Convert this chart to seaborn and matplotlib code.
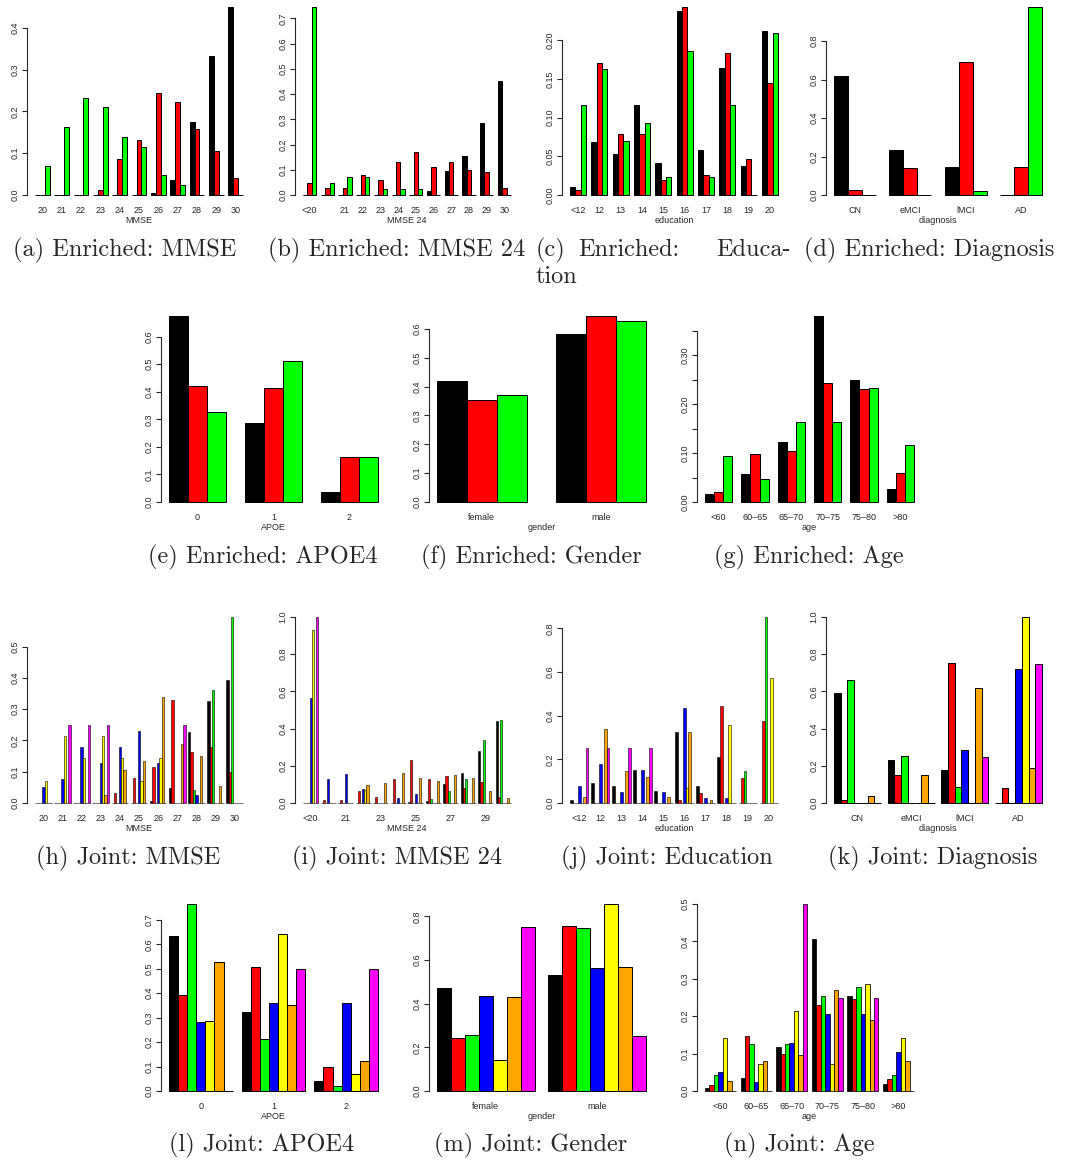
import matplotlib
matplotlib.use("Agg")
import matplotlib.pyplot as plt
import numpy as np
import pandas as pd
import seaborn as sns

sns.set_style("ticks")
plt.rcParams['font.family'] = ['Liberation Sans', 'DejaVu Sans']

# group colours (R style)
enr_names = ["g1", "g2", "g3"]
enr_colors = ["black", "red", "#00FF00"]
jnt_names = ["g1", "g2", "g3", "g4", "g5", "g6", "g7"]
jnt_colors = ["black", "red", "#00FF00", "blue", "yellow", "orange", "magenta"]

# categories
mmse_cats = ["20", "21", "22", "23", "24", "25", "26", "27", "28", "29", "30"]
mmse24_cats = ["<20", "20", "21", "22", "23", "24", "25", "26", "27", "28", "29", "30"]
edu_cats = ["<12", "12", "13", "14", "15", "16", "17", "18", "19", "20"]
diag_cats = ["CN", "eMCI", "lMCI", "AD"]
apoe_cats = ["0", "1", "2"]
gender_cats = ["female", "male"]
age_cats = ["<60", "60\u201365", "65\u201370", "70\u201375", "75\u201380", ">80"]

# tick labels that R actually printed
mmse24_enr_labels = ["<20", "", "21", "22", "23", "24", "25", "26", "27", "28", "29", "30"]
mmse24_jnt_labels = ["<20", "", "21", "", "23", "", "25", "", "27", "", "29", ""]

# ---- enriched data (black, red, green) ----
enr_mmse = [
    [0, 0, 0, 0, 0, 0, 0.005, 0.037, 0.175, 0.333, 0.45],
    [0, 0, 0, 0.013, 0.085, 0.132, 0.243, 0.223, 0.158, 0.105, 0.04],
    [0.07, 0.163, 0.233, 0.21, 0.14, 0.116, 0.047, 0.023, 0, 0, 0],
]
enr_mmse24 = [
    [0, 0, 0, 0, 0, 0, 0, 0.016, 0.095, 0.153, 0.286, 0.45],
    [0.046, 0.026, 0.026, 0.079, 0.058, 0.132, 0.17, 0.112, 0.13, 0.1, 0.092, 0.026],
    [0.745, 0.046, 0.07, 0.07, 0.023, 0.023, 0.023, 0, 0, 0, 0, 0],
]
enr_edu = [
    [0.01, 0.069, 0.053, 0.116, 0.042, 0.238, 0.058, 0.164, 0.037, 0.212],
    [0.006, 0.171, 0.079, 0.079, 0.02, 0.243, 0.026, 0.184, 0.046, 0.145],
    [0.116, 0.163, 0.07, 0.093, 0.023, 0.186, 0.023, 0.116, 0, 0.209],
]
enr_diag = [
    [0.62, 0.233, 0.148, 0],
    [0.026, 0.138, 0.69, 0.145],
    [0, 0, 0.023, 0.977],
]
enr_apoe = [
    [0.675, 0.286, 0.038],
    [0.42, 0.415, 0.163],
    [0.325, 0.512, 0.162],
]
enr_gender = [
    [0.418, 0.582],
    [0.355, 0.645],
    [0.372, 0.628],
]
enr_age = [
    [0.016, 0.058, 0.122, 0.38, 0.25, 0.027],
    [0.02, 0.099, 0.105, 0.244, 0.23, 0.06],
    [0.093, 0.047, 0.163, 0.163, 0.233, 0.116],
]

# ---- joint data (black, red, green, blue, yellow, orange, magenta) ----
jnt_mmse = [
    [0, 0, 0, 0, 0, 0, 0.006, 0.048, 0.228, 0.325, 0.393],
    [0, 0, 0, 0, 0.033, 0.08, 0.115, 0.328, 0.163, 0.18, 0.098],
    [0, 0, 0, 0, 0, 0, 0, 0, 0.043, 0.362, 0.595],
    [0.05, 0.077, 0.18, 0.128, 0.18, 0.23, 0.128, 0, 0.026, 0, 0],
    [0.07, 0.215, 0.143, 0.215, 0.143, 0.07, 0.143, 0, 0, 0, 0],
    [0, 0, 0, 0.025, 0.107, 0.135, 0.338, 0.19, 0.15, 0.054, 0],
    [0, 0.25, 0.25, 0.25, 0, 0, 0, 0.25, 0, 0, 0],
]
jnt_mmse24 = [
    [0, 0, 0, 0, 0, 0, 0.006, 0.013, 0.104, 0.16, 0.278, 0.443],
    [0, 0.015, 0.015, 0.066, 0.033, 0.13, 0.23, 0.13, 0.147, 0.082, 0.115, 0.033],
    [0, 0, 0, 0, 0, 0, 0, 0.02, 0.064, 0.127, 0.34, 0.447],
    [0.565, 0.128, 0.155, 0.077, 0, 0.025, 0.05, 0, 0, 0, 0, 0],
    [0.93, 0, 0, 0.07, 0, 0, 0, 0, 0, 0, 0, 0],
    [0, 0, 0, 0.095, 0.11, 0.162, 0.135, 0.12, 0.148, 0.135, 0.066, 0.027],
    [1.0, 0, 0, 0, 0, 0, 0, 0, 0, 0, 0, 0],
]
jnt_edu = [
    [0.013, 0.09, 0.076, 0.153, 0.056, 0.325, 0.076, 0.213, 0, 0],
    [0, 0, 0, 0, 0, 0.015, 0.048, 0.443, 0.115, 0.377],
    [0, 0, 0, 0, 0, 0, 0, 0, 0.148, 0.852],
    [0.077, 0.18, 0.05, 0.153, 0.05, 0.435, 0.025, 0.025, 0, 0],
    [0, 0, 0, 0, 0, 0.07, 0, 0.357, 0, 0.572],
    [0.027, 0.338, 0.148, 0.12, 0.027, 0.325, 0.013, 0, 0, 0],
    [0.25, 0.25, 0.25, 0.25, 0, 0, 0, 0, 0, 0],
]
jnt_diag = [
    [0.59, 0.23, 0.18, 0],
    [0.015, 0.15, 0.755, 0.08],
    [0.66, 0.255, 0.085, 0],
    [0, 0, 0.285, 0.72],
    [0, 0, 0, 1.0],
    [0.04, 0.15, 0.62, 0.19],
    [0, 0, 0.25, 0.75],
]
jnt_apoe = [
    [0.635, 0.323, 0.041],
    [0.392, 0.508, 0.098],
    [0.765, 0.212, 0.021],
    [0.282, 0.359, 0.359],
    [0.286, 0.643, 0.071],
    [0.527, 0.351, 0.122],
    [0, 0.5, 0.5],
]
jnt_gender = [
    [0.47, 0.53],
    [0.245, 0.755],
    [0.255, 0.745],
    [0.436, 0.564],
    [0.143, 0.857],
    [0.432, 0.568],
    [0.75, 0.25],
]
jnt_age = [
    [0.007, 0.034, 0.117, 0.406, 0.255, 0.02],
    [0.015, 0.147, 0.098, 0.229, 0.245, 0.033],
    [0.042, 0.127, 0.127, 0.255, 0.277, 0.042],
    [0.051, 0.025, 0.128, 0.205, 0.205, 0.103],
    [0.143, 0.071, 0.214, 0.071, 0.286, 0.143],
    [0.027, 0.081, 0.095, 0.27, 0.189, 0.081],
    [0, 0, 0.5, 0.25, 0.25, 0],
]

W, H = 1065, 1160
fig = plt.figure(figsize=(W / 100, H / 100), dpi=100)

# pixel placement of bars per row (baseline, top of tallest bar)
rows = {1: (195, 7), 2: (502, 316), 3: (803, 617), 4: (1091, 904)}
cap_y = {1: 250, 2: 557, 3: 858, 4: 1145}
cap_font = ['cmr10', 'DejaVu Serif']
CAP = 17.5
TICK = 6.5


def draw(bl, br, row, cats, series, names, colors, yticks, ylabels, xtl, xlabel, lw=0.7):
    yb, yt = rows[row]
    span = br - bl
    h = yb - yt
    x0, x1 = bl - 0.04 * span, br + 0.04 * span
    y0, y1 = yt - 0.04 * h, yb + 0.04 * h
    ax = fig.add_axes([x0 / W, 1 - y1 / H, (x1 - x0) / W, (y1 - y0) / H])

    df = pd.DataFrame(
        [(c, g, v) for g, vals in zip(names, series) for c, v in zip(cats, vals)],
        columns=["cat", "grp", "val"],
    )
    n, k = len(cats), len(names)
    w = k / (k + 1)
    sns.barplot(data=df, x="cat", y="val", hue="grp", order=cats, hue_order=names,
                palette=colors, width=w, saturation=1, edgecolor="black",
                linewidth=lw, errorbar=None, legend=False, ax=ax)

    L = n - 1 + w
    M = df["val"].max()
    ax.set_xlim(-w / 2 - 0.04 * L, n - 1 + w / 2 + 0.04 * L)
    ax.set_ylim(-0.04 * M, 1.04 * M)
    for s in ["top", "right", "bottom"]:
        ax.spines[s].set_visible(False)
    ax.spines["left"].set_bounds(0, yticks[-1])
    ax.spines["left"].set_linewidth(0.8)
    ax.set_yticks(yticks)
    ax.set_yticklabels(ylabels, rotation=90, va="center")
    ax.tick_params(axis="y", length=3.5, width=0.8, pad=1.5, labelsize=TICK)
    ax.set_xticks(range(n))
    ax.set_xticklabels(xtl)
    ax.tick_params(axis="x", length=0, pad=2.5, labelsize=TICK)
    ax.set_xlabel(xlabel, fontsize=TICK, labelpad=0.5)
    ax.set_ylabel("")
    return ax


def ticks(top, step, fmt):
    vals = np.round(np.arange(0, top + step / 2, step), 3)
    return list(vals), [fmt.format(v) for v in vals]


def caption(x, y, text, ha="center"):
    fig.text(x / W, 1 - y / H, text, ha=ha, va="center", fontsize=CAP, family=cap_font)


# ---- row 1: enriched ----
t, l = ticks(0.4, 0.1, "{:.1f}")
draw(35, 243, 1, mmse_cats, enr_mmse, enr_names, enr_colors, t, l, mmse_cats, "MMSE")
t, l = ticks(0.7, 0.1, "{:.1f}")
draw(303, 511, 1, mmse24_cats, enr_mmse24, enr_names, enr_colors, t, l, mmse24_enr_labels, "MMSE 24")
t, l = ticks(0.2, 0.05, "{:.2f}")
draw(570, 778, 1, edu_cats, enr_edu, enr_names, enr_colors, t, l, edu_cats, "education")
t, l = ticks(0.8, 0.2, "{:.1f}")
draw(834, 1042, 1, diag_cats, enr_diag, enr_names, enr_colors, t, l, diag_cats, "diagnosis")

caption(125, cap_y[1], "(a) Enriched: MMSE")
caption(397, cap_y[1], "(b) Enriched: MMSE 24")
caption(536, cap_y[1], "(c)", ha="left")
caption(578, cap_y[1], "Enriched:", ha="left")
caption(791, cap_y[1], "Educa-", ha="right")
caption(556, 277, "tion")
caption(929, cap_y[1], "(d) Enriched: Diagnosis")

# ---- row 2: enriched ----
t, l = ticks(0.6, 0.1, "{:.1f}")
draw(169, 378, 2, apoe_cats, enr_apoe, enr_names, enr_colors, t, l, apoe_cats, "APOE")
draw(437, 646, 2, gender_cats, enr_gender, enr_names, enr_colors, t, l, gender_cats, "gender")
t, l = ticks(0.35, 0.05, "{:.2f}")
l = [s if i % 2 == 0 else "" for i, s in enumerate(l)]
draw(705, 914, 2, age_cats, enr_age, enr_names, enr_colors, t, l, age_cats, "age")

caption(263, cap_y[2], "(e) Enriched: APOE4")
caption(531, cap_y[2], "(f) Enriched: Gender")
caption(809, cap_y[2], "(g) Enriched: Age")

# ---- row 3: joint ----
t, l = ticks(0.5, 0.1, "{:.1f}")
draw(35, 243, 3, mmse_cats, jnt_mmse, jnt_names, jnt_colors, t, l, mmse_cats, "MMSE", lw=0.4)
t, l = ticks(1.0, 0.2, "{:.1f}")
draw(303, 511, 3, mmse24_cats, jnt_mmse24, jnt_names, jnt_colors, t, l, mmse24_jnt_labels, "MMSE 24", lw=0.4)
t, l = ticks(0.8, 0.2, "{:.1f}")
draw(570, 778, 3, edu_cats, jnt_edu, jnt_names, jnt_colors, t, l, edu_cats, "education", lw=0.4)
t, l = ticks(1.0, 0.2, "{:.1f}")
draw(834, 1042, 3, diag_cats, jnt_diag, jnt_names, jnt_colors, t, l, diag_cats, "diagnosis")

caption(128, cap_y[3], "(h) Joint: MMSE")
caption(397, cap_y[3], "(i) Joint: MMSE 24")
caption(667, cap_y[3], "(j) Joint: Education")
caption(933, cap_y[3], "(k) Joint: Diagnosis")

# ---- row 4: joint ----
t, l = ticks(0.7, 0.1, "{:.1f}")
draw(169, 378, 4, apoe_cats, jnt_apoe, jnt_names, jnt_colors, t, l, apoe_cats, "APOE")
t, l = ticks(0.8, 0.2, "{:.1f}")
draw(437, 646, 4, gender_cats, jnt_gender, jnt_names, jnt_colors, t, l, gender_cats, "gender")
t, l = ticks(0.5, 0.1, "{:.1f}")
draw(705, 914, 4, age_cats, jnt_age, jnt_names, jnt_colors, t, l, age_cats, "age", lw=0.55)

caption(262, cap_y[4], "(l) Joint: APOE4")
caption(531, cap_y[4], "(m) Joint: Gender")
caption(799, cap_y[4], "(n) Joint: Age")

plt.savefig("out.png", dpi=100)
